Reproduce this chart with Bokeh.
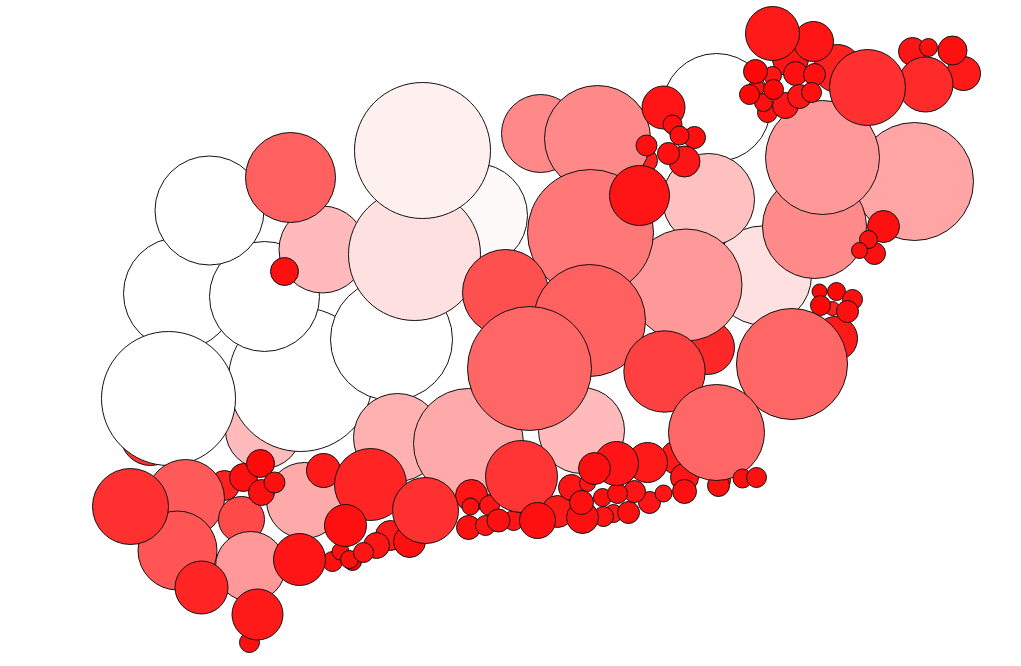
from bokeh.plotting import figure
from bokeh.models import ColumnDataSource
from bokeh.embed import file_html
from bokeh.resources import INLINE

# (x, y, radius, green/blue level of the fill), bottom-most first
circles = [
 (150,435,30,50),(179,293,56,255),(263,430,38,187),(300,379,72,255),(391,339,61,255),(264,296,55,255),(209,210,54.5,255),
 (322,249,43.5,187),(290,177,45,96),(284,271,14,16),(475,215,52,250),(414,254,66,224),(422,150,68,240),
 (168,398,67,255),(397,437,44,176),
 (716,107,54,255),(645,160,12,32),(540,133,39,136),(597,138,53,136),(707,347,27,40),(761.5,275,49.5,224),(708,199,46,192),
 (685.5,284.5,56,153),(590,232,63,119),(505,292,43,80),(589,320,56,96),
 (835,338,22,26),(819,291,7.5,8),(836,291,9,8),(852,299,10,16),(832,308,7,32),(820,305,10,8),(847,311,11,16),
 (791.5,363.5,55.5,102),(581,430,43,187),(468,443,55,170),(529,368,62,102),(664,371,40.7,64),
 (677,457,17,26),(647,462,20,26),(684,477,14,21),(721,480,9,16),(718,485,11,16),(716,432,48,102),
 (663,107,21.5,21),(672,124,9.5,16),(694,137,11,16),(679,135,9.5,16),(646,145,10.5,16),(684,161,15.5,21),(668,153,11,16),
 (639,195,30,21),
 (914,181,59,165),(814,226,52,138),(822,157,57,153),
 (883,226,16,16),(874,253,11,16),(868,239,9,16),(859,250,8,16),
 (790,58,18,21),(837,68,24,32),(813,41,20,21),(772,33,27,26),
 (772,75,9,21),(756,87,8,16),(767,112,10,16),(785,105,13,21),(763,102,9,16),(749,94,10,8),(755,71,12,8),(773,89,10,8),
 (795,73,12,16),(799,96,12,21),(814,74,11,16),(811,92,10,16),
 (963,73,17,26),(912,51,14,21),(925,84,27.5,42),(952,50,14.5,16),(928,47,9,16),(867,87,38,48),
 (224,485,15,32),(185,498,39,90),(177,550,39.5,85),(130,506,38,48),(241,519,23,74),(250,566,35,153),(201,587,26.5,37),
 (249,642,10,16),(257,614,25.5,26),(304,500,38,170),(243,477,14,16),(261,492,13,16),(260,463,14,10),(274,482,10.5,16),
 (323,470,17,26),(332,561,10,16),(340,551,8.5,16),(352,561,9,0),(349,559,9,16),(299,559,26,21),(370,484,36,37),
 (390,535,15,26),(409,541,16,16),(376,545,13,21),(363,552,10,21),(345,525,21,16),
 (471,495,16,21),(489,505,10,21),(470,506,8.5,16),(468,527,12,16),(485,525,10,21),(513,520,10,21),(498,520,11.5,16),
 (425,510,33,48),(521,476,36,53),
 (557,511,16,26),(537,520,18,16),(571,487,13,21),(587,483,8,21),(613,513,9,26),(603,516,10,21),(582,517,16,16),(581,502,12,16),
 (628,512,11,16),(649,502,11,21),(663,493,8.5,21),(602,497,9,16),(634,491,11,21),(617,493,10,16),
 (616,463,22,21),(594,468,16,16),(684,491,12,16),(742,478,9.5,16),(756,477,10,16),
]
x_values = [c[0] for c in circles]
y_values = [c[1] for c in circles]
r_values = [c[2] for c in circles]
level_values = [c[3] for c in circles]
fill_values = ["#ff%02x%02x" % (g, g) for g in level_values]

source = ColumnDataSource(dict(x=x_values, y=y_values, r=r_values, fill=fill_values))

p = figure(width=1005, height=656, x_range=(0, 1005), y_range=(656, 0),
           output_backend="svg", toolbar_location=None, min_border=0,
           outline_line_color=None, background_fill_color="white")
p.axis.visible = False
p.grid.visible = False
p.circle(x="x", y="y", radius="r", fill_color="fill", line_color="#111111",
         line_width=1, source=source)

open("out.html", "w").write(file_html(p, INLINE))
